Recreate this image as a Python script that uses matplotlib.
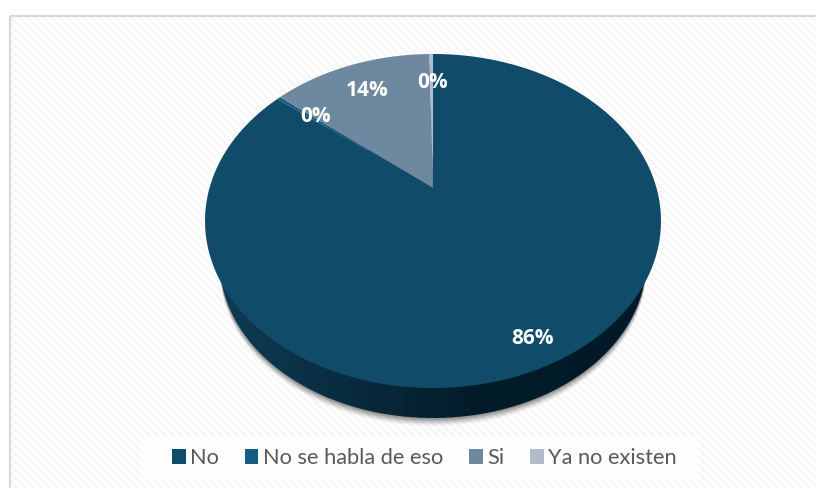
import numpy as np
import matplotlib
matplotlib.use("Agg")
import matplotlib.pyplot as plt
from matplotlib.patches import Polygon, Rectangle
from matplotlib.colors import LinearSegmentedColormap

# categorias y valores
categories = ["No", "No se habla de eso", "Si", "Ya no existen"]
values = [85.7, 0.3, 13.7, 0.3]
shown = ["86%", "0%", "14%", "0%"]
colors = ["#104b69", "#155d80", "#6e88a0", "#b0bccb"]

W, H = 816, 488
CX, CY = 433, 188        # vertice del pie en pixeles
A, B, K = 223.5, 160.5, 0.1976   # perspectiva
SCALE, DROP = 0.935, 40.8  # elipse inferior


def project(theta, r=1.0):
    # theta en radianes desde arriba, sentido horario
    u, v = r * np.sin(theta), r * np.cos(theta)
    w = 1 + K * v
    return CX + A * u / w, CY - B * v / w


def lower(theta):
    # contorno inferior: misma elipse reducida y desplazada
    x, y = project(theta)
    return CX + (x - CX) * SCALE, 221 + (y - 221) * SCALE + DROP


plt.rcParams["font.family"] = ["Lato", "DejaVu Sans"]
fig = plt.figure(figsize=(W / 100, H / 100), dpi=100)
ax = fig.add_axes([0, 0, 1, 1])
ax.set_xlim(0, W)
ax.set_ylim(H, 0)
ax.axis("off")

# fondo rayado del panel
yy, xx = np.mgrid[0:H, 0:W]
stripes = ((xx - yy) % 8) < 4
bg = np.where(stripes, 0.965, 1.0)
panel = ax.imshow(bg, cmap="gray", vmin=0, vmax=1, extent=(0, W, H, 0),
                  interpolation="bilinear", aspect="auto", zorder=0)
panel.set_clip_path(Rectangle((10, 16), W, H, transform=ax.transData))
ax.add_patch(Rectangle((10, 16), W, H, fill=False, ec="#d9d9d9", lw=1.6, zorder=1))

t = np.linspace(0, 2 * np.pi, 400)
lx, ly = lower(t)

# sombra difusa bajo el pie
for off, alpha in zip([8, 7, 6, 5, 4, 3, 2, 1], [0.03, 0.04, 0.05, 0.06, 0.07, 0.08, 0.09, 0.1]):
    ax.add_patch(Polygon(np.column_stack([lx, ly + off]), fc="#000000", ec="none",
                         alpha=alpha, zorder=2))

# pared lateral con degradado
wall_patch = Polygon(np.column_stack([lx, ly]), fc="none", ec="none", zorder=3)
ax.add_patch(wall_patch)
cmap = LinearSegmentedColormap.from_list("wall", [(0, "#021a27"), (0.42, "#031c2a"),
                                                  (0.75, "#0a2f43"), (1, "#0e3d56")])
grad = 1 - (np.linspace(205, 661, 456)[None, :] - 205) / 456
img = ax.imshow(grad, cmap=cmap, vmin=0, vmax=1, extent=(205, 661, 450, 150),
                aspect="auto", zorder=3)
img.set_clip_path(wall_patch)
ax.set_xlim(0, W)
ax.set_ylim(H, 0)

# sectores desde arriba en sentido horario
start = 0.0
fr = np.array(values) / sum(values)
for f, col in zip(fr, colors):
    end = start + 2 * np.pi * f
    a = np.linspace(start, end, 200)
    px, py = project(a)
    pts = np.vstack([[CX, CY], np.column_stack([px, py])])
    ax.add_patch(Polygon(pts, fc=col, ec="none", zorder=4))
    start = end

# etiquetas de datos
label_x = [532, 316, 367, 433]
label_y = [338, 117, 91, 82]
for x, y, s in zip(label_x, label_y, shown):
    ax.text(x, y, s, color="white", fontsize=15, fontweight="bold", family=["Open Sans", "DejaVu Sans"],
            ha="center", va="center", zorder=6)

# leyenda
ax.add_patch(Rectangle((141, 436), 557, 46, fc="white", ec="none", alpha=0.65, zorder=6))
handles = [Rectangle((0, 0), 1, 1, fc=c, ec="none") for c in colors]
leg = ax.legend(handles, categories, loc="center", bbox_to_anchor=(424.5 / W, 1 - 458 / H),
                bbox_transform=ax.transAxes, ncol=4, frameon=False, fontsize=15.7,
                handlelength=0.62, handleheight=0.65, handletextpad=0.2, columnspacing=1.2,
                labelcolor="#595959")
leg.set_zorder(7)

fig.savefig("out.png", dpi=100)
